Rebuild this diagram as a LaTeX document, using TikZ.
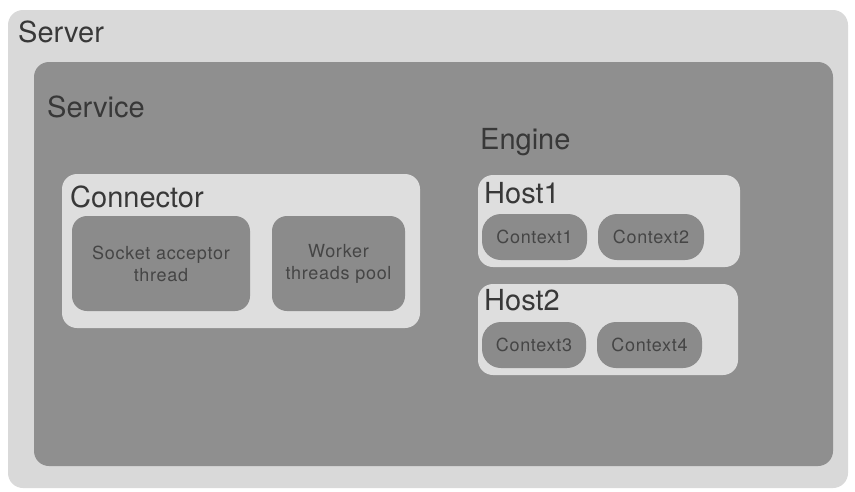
\documentclass[tikz,border=0pt]{standalone}
\usepackage{fontspec}
\setmainfont{TeX Gyre Heros}
\newfontfamily\widefont[LetterSpace=4]{TeX Gyre Heros}
\definecolor{srv}{HTML}{D9D9D9}
\definecolor{svc}{HTML}{8F8F8F}
\definecolor{lite}{HTML}{DEDEDE}
\definecolor{inner}{HTML}{8B8B8B}
\definecolor{bigtxt}{HTML}{383838}
\definecolor{smalltxt}{HTML}{454545}
\tikzset{
  box/.style={rectangle, rounded corners=15pt, draw=none, inner sep=0pt},
  pill/.style={rectangle, rounded corners=19pt, draw=none, inner sep=0pt, fill=inner, text=smalltxt, font=\widefont\fontsize{18}{22}\selectfont, align=center},
  bigl/.style={anchor=west, inner sep=0pt, text=bigtxt, font=\fontsize{29}{32}\selectfont},
  smallbox/.style={box, fill=inner, text=smalltxt, font=\widefont\fontsize{18}{22}\selectfont, align=center}
}
\begin{document}
\begin{tikzpicture}[x=1pt,y=-1pt]
\useasboundingbox[fill=white] (0,0) rectangle (855,491);
\node[box, fill=srv, minimum width=840pt, minimum height=478pt] (server) at (428,249) {};
\node[bigl] (serverl) at (18,32) {Server};
\node[box, fill=svc, minimum width=799pt, minimum height=404pt] (service) at (433.5,264) {};
\node[bigl] (servicel) at (47,107) {Service};
\node[box, fill=lite, minimum width=358pt, minimum height=154pt] (connector) at (241,251) {};
\node[bigl] (connectorl) at (70,197) {Connector};
\node[smallbox, minimum width=178pt, minimum height=95pt] (socket) at (161,263.5) {Socket acceptor\\thread};
\node[smallbox, minimum width=133pt, minimum height=95pt] (worker) at (338.5,263.5) {Worker\\threads pool};
\node[bigl] (enginel) at (480,142) {Engine};
\node[box, fill=lite, minimum width=262pt, minimum height=92pt] (host1) at (609,221) {};
\node[bigl] (host1l) at (484,193) {Host1};
\node[pill, minimum width=105pt, minimum height=46pt] (ctx1) at (534.5,237) {Context1};
\node[pill, minimum width=106pt, minimum height=46pt] (ctx2) at (651,237) {Context2};
\node[box, fill=lite, minimum width=260pt, minimum height=91pt] (host2) at (608,329.5) {};
\node[bigl] (host2l) at (484,300) {Host2};
\node[pill, minimum width=104pt, minimum height=46pt] (ctx3) at (534,345) {Context3};
\node[pill, minimum width=105pt, minimum height=46pt] (ctx4) at (649.5,345) {Context4};
\end{tikzpicture}
\end{document}
